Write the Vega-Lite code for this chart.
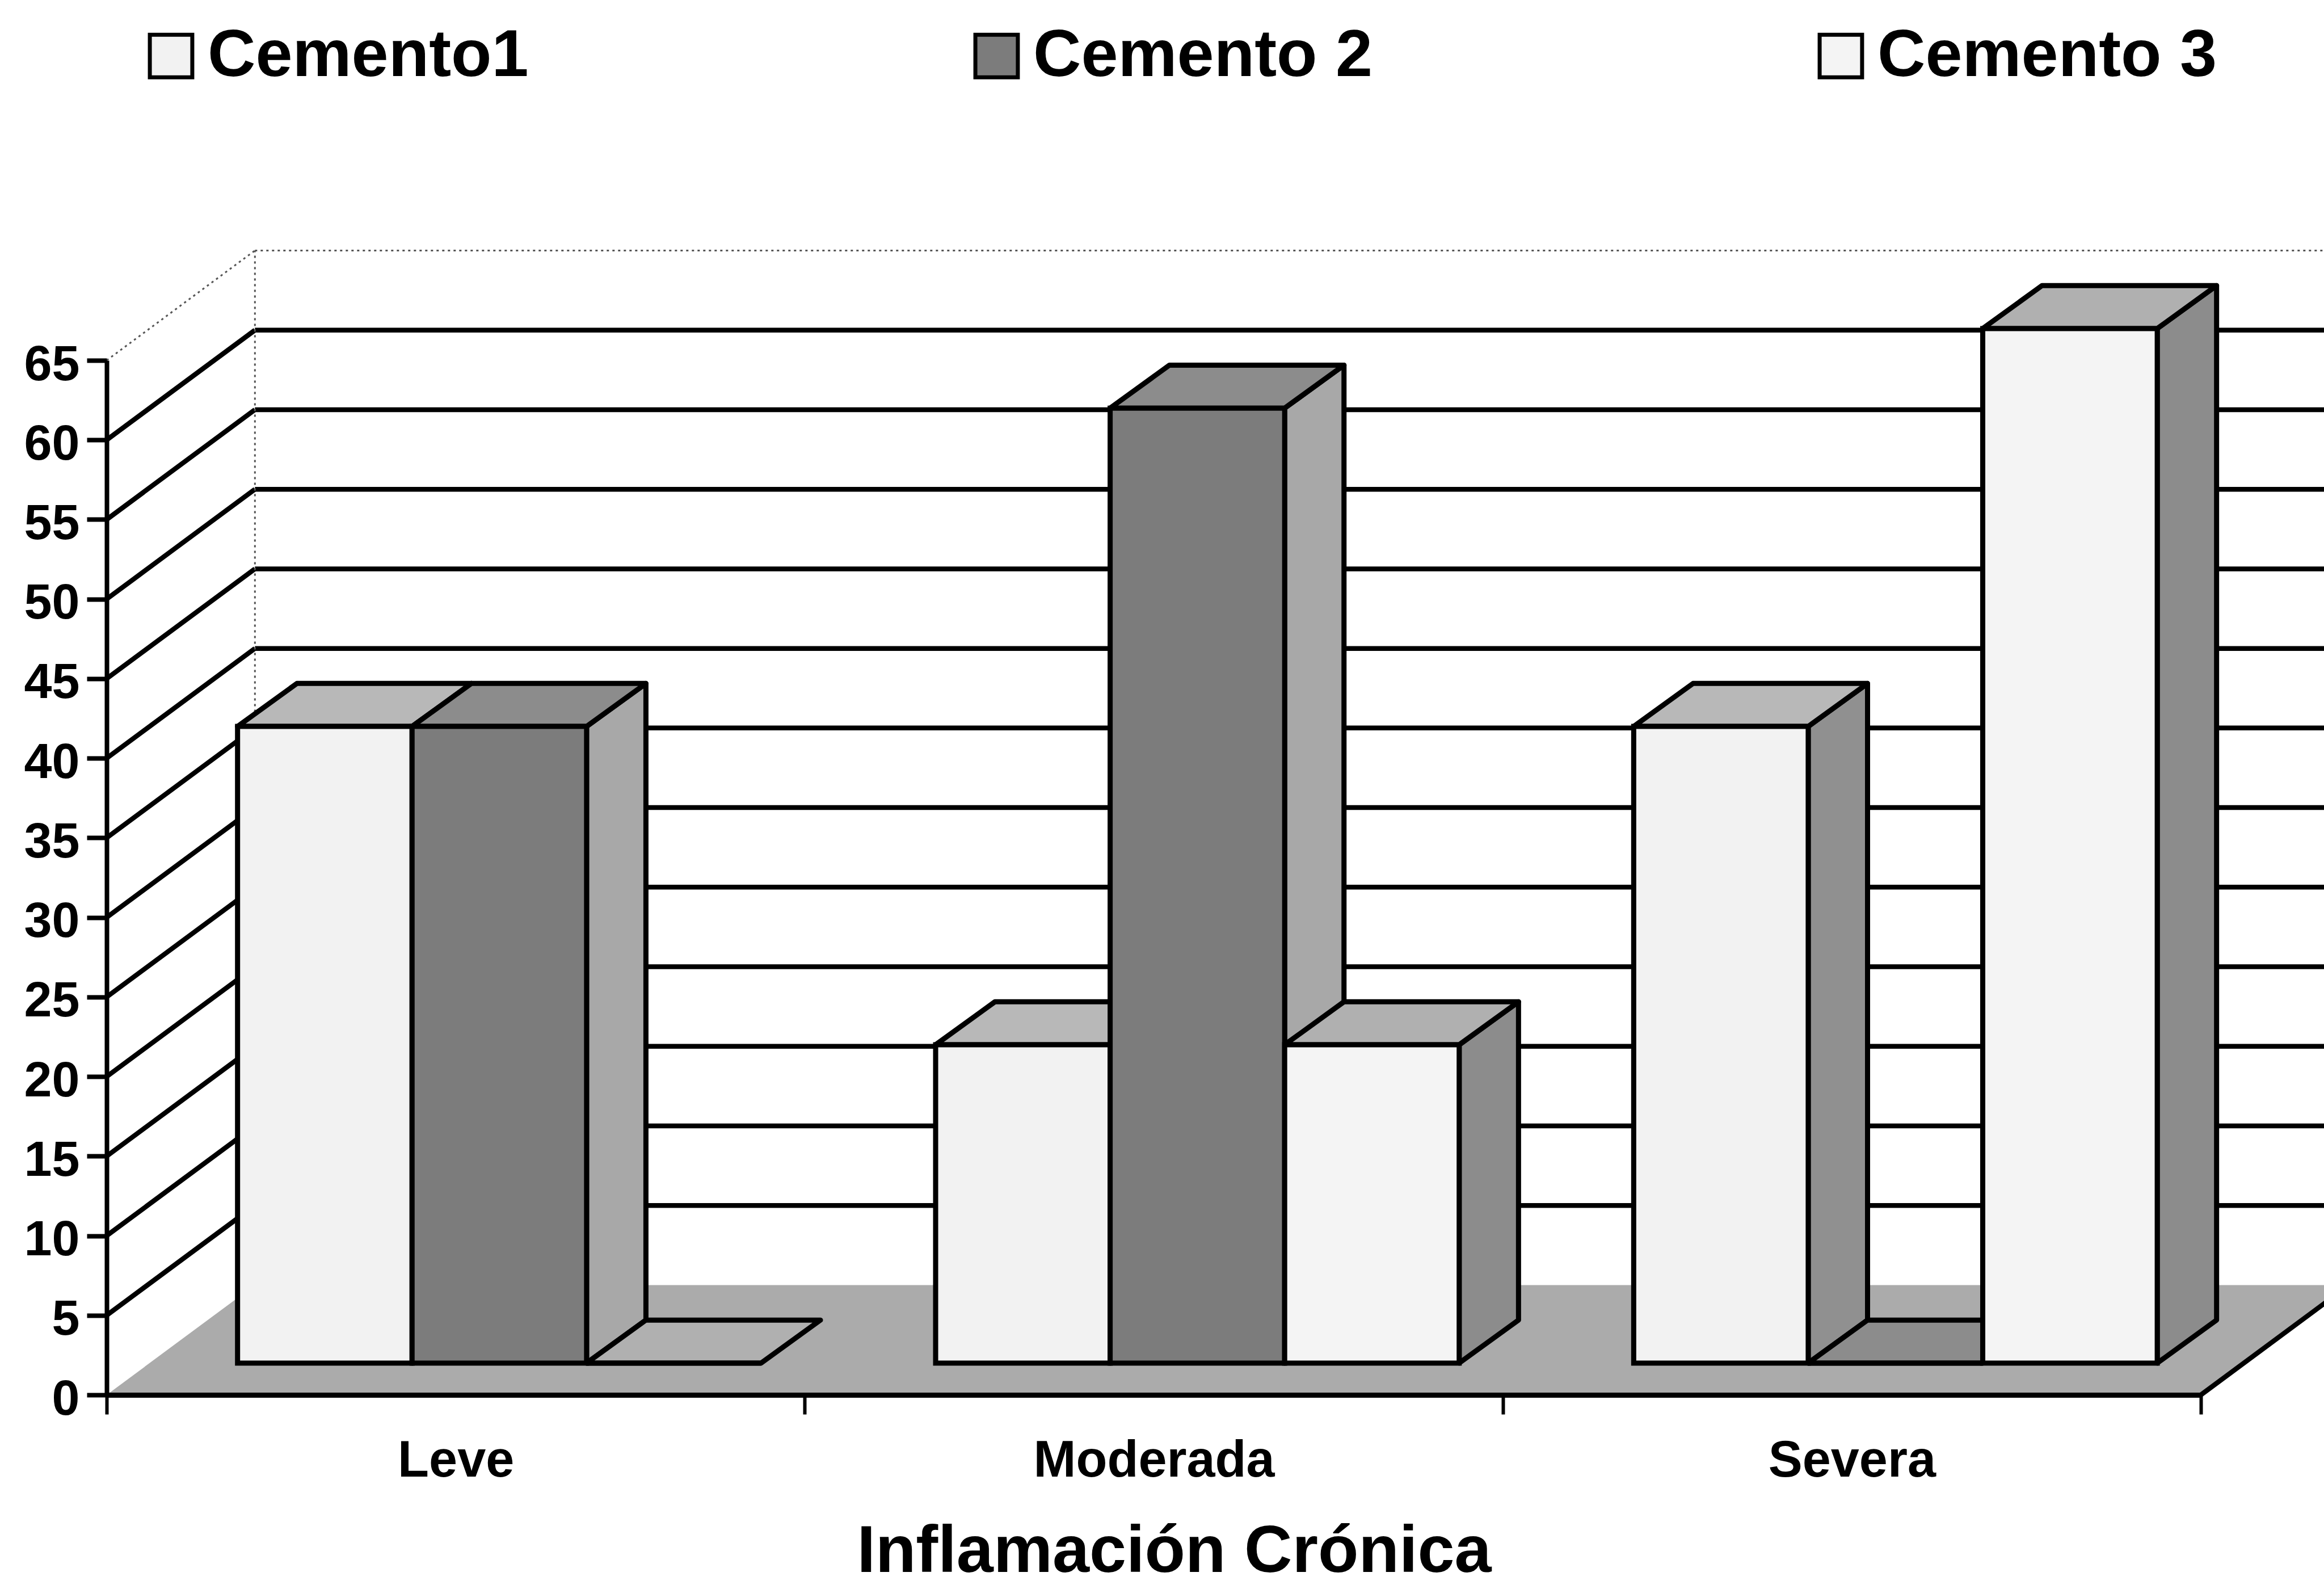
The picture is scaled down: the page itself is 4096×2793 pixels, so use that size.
{"$schema":"https://vega.github.io/schema/vega-lite/v6.json","width":3691,"height":1823,"autosize":{"type":"none"},"padding":{"left":188,"top":635,"right":217,"bottom":335},"background":"white","config":{"view":{"stroke":null},"font":"Liberation Sans"},"datasets":{"bars":[{"category":"Leve","series":"Cemento1","value":40},{"category":"Leve","series":"Cemento 2","value":40},{"category":"Leve","series":"Cemento 3","value":0},{"category":"Moderada","series":"Cemento1","value":20},{"category":"Moderada","series":"Cemento 2","value":60},{"category":"Moderada","series":"Cemento 3","value":20},{"category":"Severa","series":"Cemento1","value":40},{"category":"Severa","series":"Cemento 2","value":0},{"category":"Severa","series":"Cemento 3","value":65}],"grid":[{"tick":5},{"tick":10},{"tick":15},{"tick":20},{"tick":25},{"tick":30},{"tick":35},{"tick":40},{"tick":45},{"tick":50},{"tick":55},{"tick":60}],"frame":[{"tick":65}]},"resolve":{"scale":{"x":"independent","color":"independent"},"axis":{"y":"independent"}},"layer":[{"data":{"name":"frame"},"transform":[{"calculate":"[0,0.2124,3,3.2124]","as":"px"},{"calculate":"[0,0,0,6.9]","as":"lo"},{"calculate":"[0,6.9,6.9,6.9]","as":"hi"},{"flatten":["px","lo","hi"]}],"mark":{"type":"area","color":"#ababab","orient":"vertical"},"encoding":{"x":{"field":"px","type":"quantitative","scale":{"domain":[0,3],"nice":false,"zero":false},"axis":null},"y":{"field":"lo","type":"quantitative","stack":null,"scale":{"domain":[0,65],"nice":false},"axis":{"values":[0,5,10,15,20,25,30,35,40,45,50,55,60,65],"title":null,"grid":false,"zindex":1,"domainWidth":8,"domainColor":"black","tickColor":"black","tickWidth":8,"tickSize":35,"labelFontSize":88,"labelFontWeight":"bold","labelColor":"black","labelPadding":13,"labelOffset":8,"labelFont":"Liberation Sans"}},"y2":{"field":"hi"}}},{"data":{"name":"grid"},"transform":[{"calculate":"datum.tick+6.9","as":"wy"},{"calculate":"0.2124","as":"wx"},{"calculate":"3.2124","as":"wx2"}],"mark":{"type":"rule","color":"black","strokeWidth":8.5},"encoding":{"x":{"field":"wx","type":"quantitative","scale":{"domain":[0,3],"nice":false,"zero":false},"axis":null},"x2":{"field":"wx2"},"y":{"field":"wy","type":"quantitative","scale":{"domain":[0,65],"nice":false},"axis":null}}},{"data":{"name":"grid"},"transform":[{"calculate":"datum.tick+6.9","as":"wy"},{"calculate":"0","as":"ax"},{"calculate":"0.2124","as":"wx"}],"mark":{"type":"rule","color":"black","strokeWidth":8.5},"encoding":{"x":{"field":"ax","type":"quantitative","scale":{"domain":[0,3],"nice":false,"zero":false},"axis":null},"x2":{"field":"wx"},"y":{"field":"tick","type":"quantitative","scale":{"domain":[0,65],"nice":false},"axis":null},"y2":{"field":"wy"}}},{"data":{"name":"frame"},"transform":[{"calculate":"datum.tick+6.9","as":"wy"},{"calculate":"0.2124","as":"wx"},{"calculate":"3.2124","as":"wx2"}],"mark":{"type":"rule","color":"#555555","strokeWidth":3,"strokeDash":[4,6]},"encoding":{"x":{"field":"wx","type":"quantitative","scale":{"domain":[0,3],"nice":false,"zero":false},"axis":null},"x2":{"field":"wx2"},"y":{"field":"wy","type":"quantitative","scale":{"domain":[0,65],"nice":false},"axis":null}}},{"data":{"name":"frame"},"transform":[{"calculate":"datum.tick+6.9","as":"wy"},{"calculate":"0","as":"ax"},{"calculate":"0.2124","as":"wx"}],"mark":{"type":"rule","color":"#555555","strokeWidth":3,"strokeDash":[4,6]},"encoding":{"x":{"field":"ax","type":"quantitative","scale":{"domain":[0,3],"nice":false,"zero":false},"axis":null},"x2":{"field":"wx"},"y":{"field":"tick","type":"quantitative","scale":{"domain":[0,65],"nice":false},"axis":null},"y2":{"field":"wy"}}},{"data":{"name":"frame"},"transform":[{"calculate":"datum.tick+6.9","as":"wy"},{"calculate":"6.9","as":"wy0"},{"calculate":"0.2124","as":"wx"}],"mark":{"type":"rule","color":"#555555","strokeWidth":3,"strokeDash":[4,6]},"encoding":{"x":{"field":"wx","type":"quantitative","scale":{"domain":[0,3],"nice":false,"zero":false},"axis":null},"y":{"field":"wy0","type":"quantitative","scale":{"domain":[0,65],"nice":false},"axis":null},"y2":{"field":"wy"}}},{"data":{"name":"frame"},"transform":[{"calculate":"3","as":"ax"},{"calculate":"3.2124","as":"wx"},{"calculate":"0","as":"y0"},{"calculate":"6.9","as":"wy"}],"mark":{"type":"rule","color":"black","strokeWidth":8.5},"encoding":{"x":{"field":"ax","type":"quantitative","scale":{"domain":[0,3],"nice":false,"zero":false},"axis":null},"x2":{"field":"wx"},"y":{"field":"y0","type":"quantitative","scale":{"domain":[0,65],"nice":false},"axis":null},"y2":{"field":"wy"}}},{"data":{"name":"bars"},"transform":[{"filter":"datum.value>0"},{"calculate":"indexof(['Leve','Moderada','Severa'],datum.category)+0.1875+0.25*(indexof(['Cemento1','Cemento 2','Cemento 3'],datum.series)+1)","as":"x1"},{"calculate":"[datum.x1,datum.x1+0.085]","as":"px"},{"calculate":"[2,4.7]","as":"lo"},{"calculate":"[datum.value+2,datum.value+4.7]","as":"hi"},{"flatten":["px","lo","hi"]}],"mark":{"type":"area","orient":"vertical","stroke":"black","strokeWidth":9,"strokeJoin":"round"},"encoding":{"x":{"field":"px","type":"quantitative","scale":{"domain":[0,3],"nice":false,"zero":false},"axis":null},"y":{"field":"lo","type":"quantitative","stack":null,"scale":{"domain":[0,65],"nice":false},"axis":null},"y2":{"field":"hi"},"detail":{"field":"category"},"color":{"field":"series","type":"nominal","scale":{"domain":["Cemento1","Cemento 2","Cemento 3"],"range":["#909090","#a8a8a8","#8c8c8c"]},"legend":null}}},{"data":{"name":"bars"},"transform":[{"calculate":"indexof(['Leve','Moderada','Severa'],datum.category)+0.1875+0.25*indexof(['Cemento1','Cemento 2','Cemento 3'],datum.series)","as":"x0"},{"calculate":"datum.value+2","as":"t"},{"calculate":"[datum.x0,datum.x0+0.085,datum.x0+0.25,datum.x0+0.335]","as":"px"},{"calculate":"[datum.t,datum.t,datum.t,datum.t+2.7]","as":"lo"},{"calculate":"[datum.t,datum.t+2.7,datum.t+2.7,datum.t+2.7]","as":"hi"},{"flatten":["px","lo","hi"]}],"mark":{"type":"area","orient":"vertical","stroke":"black","strokeWidth":9,"strokeJoin":"round"},"encoding":{"x":{"field":"px","type":"quantitative","scale":{"domain":[0,3],"nice":false,"zero":false},"axis":null},"y":{"field":"lo","type":"quantitative","stack":null,"scale":{"domain":[0,65],"nice":false},"axis":null},"y2":{"field":"hi"},"detail":{"field":"category"},"color":{"field":"series","type":"nominal","scale":{"domain":["Cemento1","Cemento 2","Cemento 3"],"range":["#b8b8b8","#8c8c8c","#b0b0b0"]},"legend":null}}},{"data":{"name":"bars"},"transform":[{"calculate":"datum.value+2","as":"t"},{"calculate":"2","as":"b"}],"mark":{"type":"bar","stroke":"black","strokeWidth":9},"encoding":{"x":{"field":"category","type":"nominal","sort":["Leve","Moderada","Severa"],"scale":{"paddingInner":0,"paddingOuter":0},"axis":{"title":"Inflamación Crónica","labelAngle":0,"labelLimit":2000,"tickBand":"extent","zindex":1,"domainWidth":9,"domainColor":"black","tickColor":"black","tickWidth":6,"tickSize":34,"labelFontSize":90,"labelFontWeight":"bold","labelColor":"black","labelPadding":38,"labelFont":"Liberation Sans","titleFont":"Liberation Sans","titleFontSize":117,"titleFontWeight":"bold","titleColor":"black","titleX":1881,"titleY":311,"titleAlign":"center","titleBaseline":"alphabetic"}},"xOffset":{"field":"series","type":"nominal","sort":["Cemento1","Cemento 2","Cemento 3"],"scale":{"paddingInner":0,"paddingOuter":0.5,"align":0.75}},"y":{"field":"t","type":"quantitative","scale":{"domain":[0,65],"nice":false},"axis":null},"y2":{"field":"b"},"color":{"field":"series","type":"nominal","scale":{"domain":["Cemento1","Cemento 2","Cemento 3"],"range":["#f2f2f2","#7c7c7c","#f4f4f4"]},"legend":{"title":null,"orient":"none","legendX":55,"legendY":-595,"columns":3,"columnPadding":766,"direction":"horizontal","symbolType":"square","symbolSize":5600,"symbolStrokeColor":"black","symbolStrokeWidth":7,"labelFontSize":117,"labelFontWeight":"bold","labelColor":"black","labelFont":"Liberation Sans","labelOffset":6,"labelLimit":1000,"gridAlign":"each"}}}}]}
